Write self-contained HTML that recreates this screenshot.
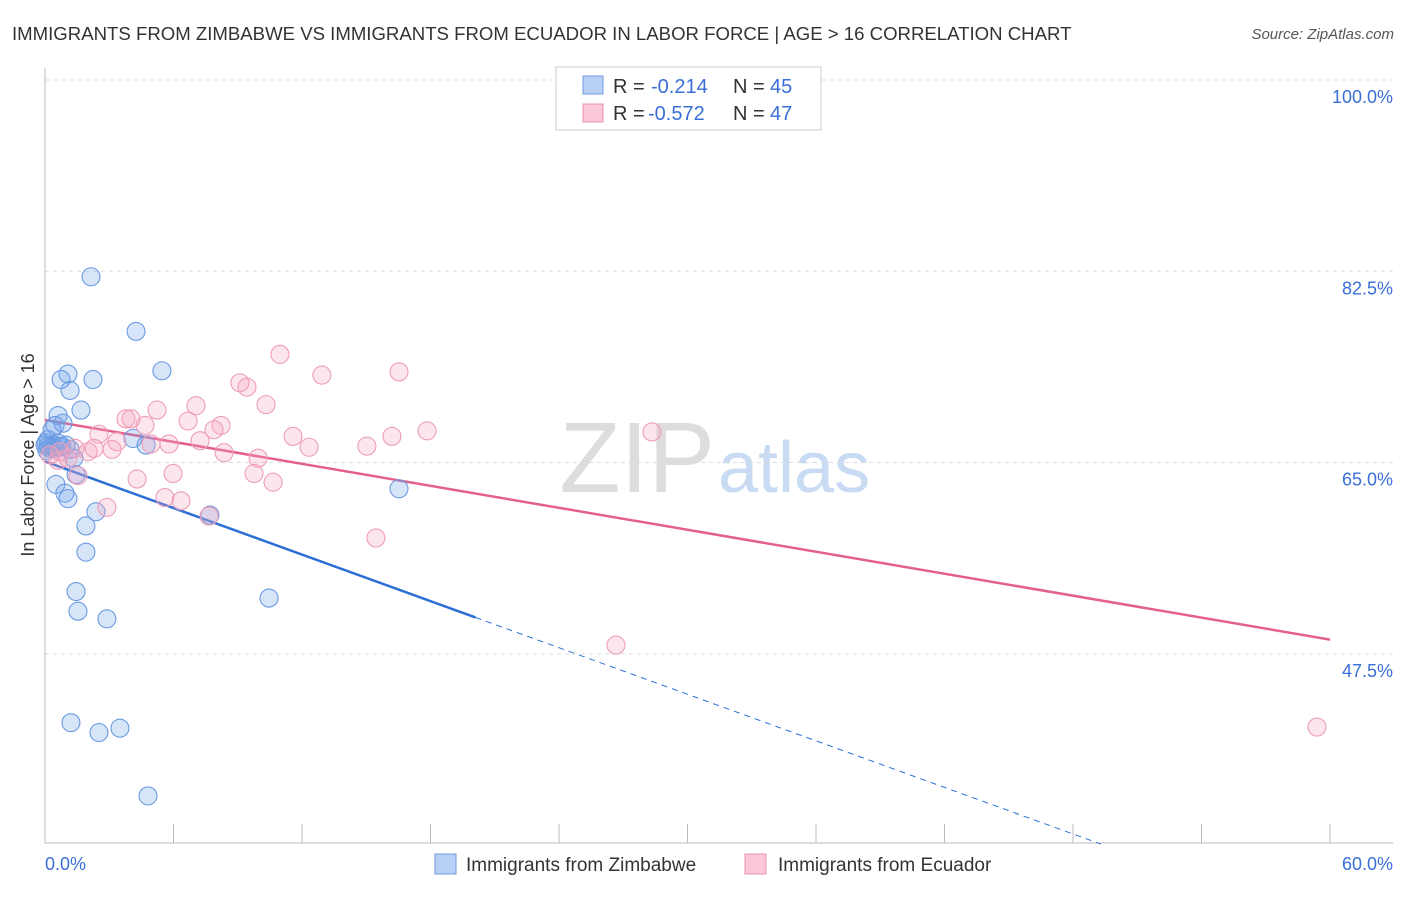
<!DOCTYPE html>
<html><head><meta charset="utf-8"><style>
body{margin:0;background:#fff;font-family:"Liberation Sans",sans-serif;}
svg text{font-family:"Liberation Sans",sans-serif;}
</style></head><body>
<svg id="chart" width="1406" height="892">
<text x="12" y="40" font-size="18.6" fill="#333">IMMIGRANTS FROM ZIMBABWE VS IMMIGRANTS FROM ECUADOR IN LABOR FORCE | AGE &gt; 16 CORRELATION CHART</text>
<text x="1394" y="39" font-size="15" fill="#555" text-anchor="end" font-style="italic">Source: ZipAtlas.com</text>
<text x="715" y="492" font-size="100" fill="#ddd" text-anchor="end" font-family="Liberation Serif">ZIP</text>
<text x="718" y="492" font-size="72" fill="#c8dbf2">atlas</text>
<g id="grid"></g><g id="axes"></g><g id="lines"></g><g id="pts"></g>
<text x="34" y="455" font-size="18" fill="#333" text-anchor="middle" transform="rotate(-90 34 455)">In Labor Force | Age &gt; 16</text>
<text x="45" y="870" font-size="18" fill="#3a6fd8">0.0%</text>
<text x="1393" y="870" font-size="18" fill="#3a6fd8" text-anchor="end">60.0%</text>
<g>
<rect x="556" y="67" width="265" height="63" fill="#fff" stroke="#ccc"/>
<rect x="583" y="76" width="20" height="18" fill="#b8d0f5" stroke="#6f9be0"/>
<rect x="583" y="104" width="20" height="18" fill="#fac8d7" stroke="#e890ad"/>
<text x="613" y="93" font-size="20" fill="#333">R =</text>
<text x="651" y="93" font-size="20" fill="#3a6fd8">-0.214</text>
<text x="733" y="93" font-size="20" fill="#333">N =</text>
<text x="770" y="93" font-size="20" fill="#3a6fd8">45</text>
<text x="613" y="120" font-size="20" fill="#333">R =</text>
<text x="648" y="120" font-size="20" fill="#3a6fd8">-0.572</text>
<text x="733" y="120" font-size="20" fill="#333">N =</text>
<text x="770" y="120" font-size="20" fill="#3a6fd8">47</text>
</g>
<g>
<rect x="435" y="854" width="21" height="20" fill="#b8d0f5" stroke="#6f9be0"/>
<text x="466" y="871" font-size="19" fill="#333">Immigrants from Zimbabwe</text>
<rect x="745" y="854" width="21" height="20" fill="#fac8d7" stroke="#e890ad"/>
<text x="778" y="871" font-size="19" fill="#333">Immigrants from Ecuador</text>
</g>
</svg>
<script>
const yTicks=[100,82.5,65,47.5];
const yTickLabels=["100.0%","82.5%","65.0%","47.5%"];
const xTicks=[0,6,12,18,24,30,36,42,48,54,60];
const blueX=[2.15,4.25,5.46,1.07,0.75,2.24,1.17,1.68,0.61,0.47,0.84,0.33,0.14,0.37,0.61,0.98,0.23,1.17,0.05,4.11,4.72,1.45,0.51,0.93,1.07,2.38,7.70,1.91,1.91,1.45,1.54,2.89,10.46,16.53,1.21,2.52,3.50,4.81,0.14,0.0,0.70,1.35,0.47,0.79,0.09];
const blueY=[82.0,77.0,73.4,73.1,72.6,72.6,71.6,69.8,69.3,68.4,68.6,68.0,67.1,66.6,66.8,66.6,66.3,66.2,66.8,67.2,66.6,63.9,63.0,62.2,61.7,60.5,60.2,59.2,56.8,53.2,51.4,50.7,52.6,62.6,41.2,40.3,40.7,34.5,66.5,66.6,66.4,65.4,66.3,66.5,66.1];
const pinkX=[10.97,12.93,16.53,9.10,9.43,10.32,7.05,5.23,3.78,4.02,6.68,8.22,7.89,2.52,4.67,17.84,28.34,11.58,16.20,7.24,5.79,4.95,15.03,12.33,3.36,3.13,2.01,2.29,1.07,0.61,8.36,9.95,1.40,4.30,5.98,9.76,10.65,5.60,6.35,2.89,7.66,15.45,26.66,59.39,1.54,0.23,0.70];
const pinkY=[74.9,73.0,73.3,72.3,71.9,70.3,70.2,69.8,69.0,69.0,68.8,68.4,68.0,67.6,68.4,67.9,67.8,67.4,67.4,67.0,66.7,66.7,66.5,66.4,66.9,66.2,66.0,66.3,65.4,65.2,65.9,65.4,66.3,63.5,64.0,64.0,63.2,61.8,61.5,60.9,60.1,58.1,48.3,40.8,63.8,65.7,66.0];
const blueTrend=[65.1,22.5], blueSolidEnd=20.1;
const pinkTrend=[68.9,48.8];
const NS="http://www.w3.org/2000/svg";
const X=v=>45+v/60*1285, Y=v=>80+(100-v)*10.93;
function mk(parent,tag,attrs){const e=document.createElementNS(NS,tag);for(const k in attrs)e.setAttribute(k,attrs[k]);document.getElementById(parent).appendChild(e);return e;}
yTicks.forEach((t,i)=>{
 const l=mk('grid','line',{x1:45,x2:1393,y1:Y(t),y2:Y(t),stroke:'#ddd','stroke-dasharray':'4,4'});
 
 
 const tx=mk('grid','text',{x:1393,y:Y(t)+23,'font-size':18,fill:'#3a6fd8','text-anchor':'end'});
 tx.textContent=yTickLabels[i];
 
 
});
let a=mk('axes','line',{x1:45,x2:45,y1:68,y2:843,stroke:'#bbb'});


a=mk('axes','line',{x1:45,x2:1393,y1:843,y2:843,stroke:'#bbb'});


xTicks.forEach(t=>{const e=mk('axes','line',{x1:X(t),x2:X(t),y1:824,y2:843,stroke:'#bbb'});
 
 });
const bAt=v=>blueTrend[0]+(blueTrend[1]-blueTrend[0])*v/60;
let ln=mk('lines','line',{x1:X(0),y1:Y(bAt(0)),x2:X(blueSolidEnd),y2:Y(bAt(blueSolidEnd)),stroke:'#2b6fd6','stroke-width':2.5});


const endX=49.3;
ln=mk('lines','line',{x1:X(blueSolidEnd),y1:Y(bAt(blueSolidEnd)),x2:X(endX),y2:Y(bAt(endX)),stroke:'#2b6fd6','stroke-width':1,'stroke-dasharray':'6,5'});


ln=mk('lines','line',{x1:X(0),y1:Y(pinkTrend[0]),x2:X(60),y2:Y(pinkTrend[1]),stroke:'#e4608c','stroke-width':2.5});


blueX.forEach((v,i)=>{const c=mk('pts','circle',{cx:X(v),cy:Y(blueY[i]),r:9,fill:'rgba(110,160,235,0.28)',stroke:'#6a9ae2','stroke-width':1.1});
 
 });
pinkX.forEach((v,i)=>{const c=mk('pts','circle',{cx:X(v),cy:Y(pinkY[i]),r:9,fill:'rgba(245,160,190,0.28)',stroke:'#ee9db8','stroke-width':1.1});
 
 });
</script>
</body></html>
